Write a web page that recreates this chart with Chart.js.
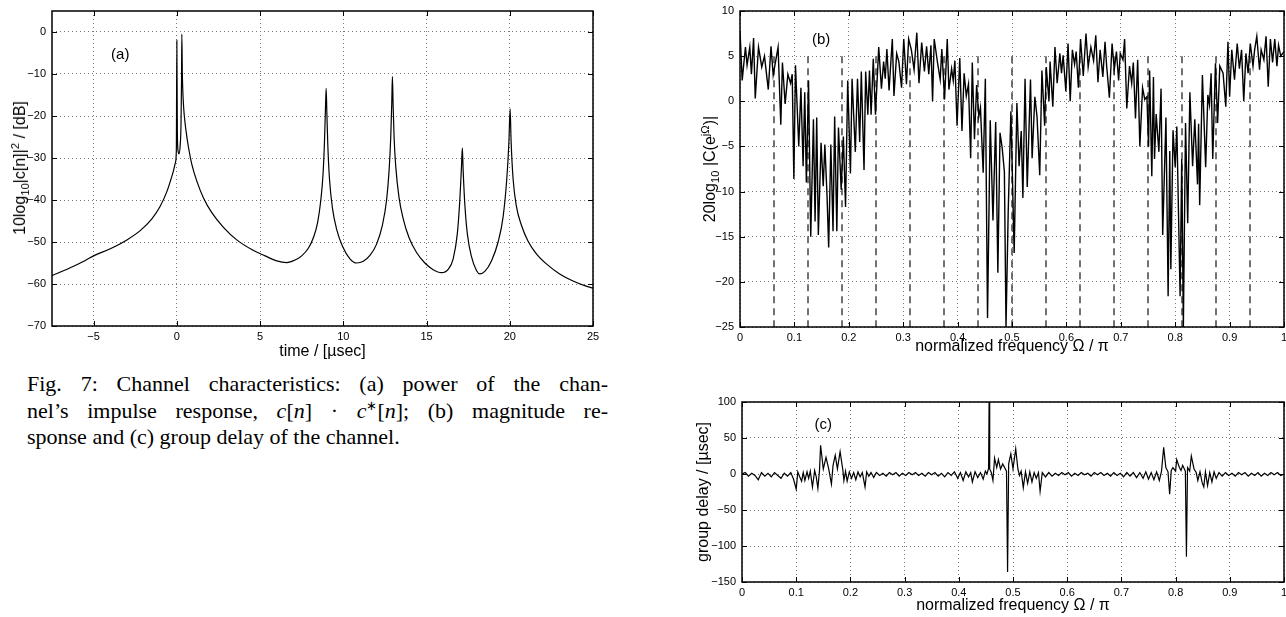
<!DOCTYPE html>
<html lang="en">
<head>
  <meta charset="UTF-8" />
  <title>Fig. 7: Channel characteristics</title>
  <script src="https://cdn.jsdelivr.net/npm/chart.js"></script>
  <style>
    body { margin: 0; background: #fff; }
    #page {
      position: relative;
      width: 1286px;
      height: 617px;
      overflow: hidden;
      font-family: 'Liberation Sans', Arial, sans-serif;
      color: #000;
    }
    canvas { position: absolute; }
    .ytitle {
      position: absolute;
      font-size: 16px;
      white-space: nowrap;
      transform: translate(-50%, -50%) rotate(-90deg);
    }
    .ytitle sub, .ytitle sup { font-size: 70%; line-height: 0; }
    .caption {
      position: absolute;
      left: 27px;
      top: 371px;
      width: 581px;
      font-family: 'Liberation Serif', 'Times New Roman', serif;
      font-size: 22px;
      line-height: 26.5px;
    }
    .caption .j { text-align: justify; text-align-last: justify; }
    .caption sup { font-size: 60%; line-height: 0; }
  </style>
</head>
<body>
  <div id="page">
    <canvas id="chartA" width="620" height="361" style="left:0;top:0"></canvas>
    <canvas id="chartB" width="606" height="356" style="left:680px;top:0"></canvas>
    <canvas id="chartC" width="606" height="230" style="left:680px;top:385px"></canvas>

    <div class="ytitle" style="left:20px;top:168px">10log<sub>10</sub>|c[n]|<sup>2</sup> / [dB]</div>
    <div class="ytitle" style="left:710px;top:169px">20log<sub>10</sub> |C(e<sup>jΩ</sup>)|</div>
    <div class="ytitle" style="left:703px;top:492px">group delay / [µsec]</div>

    <div class="caption">
      <div class="j">Fig. 7: Channel characteristics: (a) power of the chan-</div>
      <div class="j">nel’s impulse response, <i>c</i>[<i>n</i>] · <i>c</i><sup>∗</sup>[<i>n</i>]; (b) magnitude re-</div>
      <div>sponse and (c) group delay of the channel.</div>
    </div>
  </div>

  <script>
    // (a) power of the impulse response
    const aTicksX = [-5, 0, 5, 10, 15, 20, 25];
    const aTicksY = [-70, -60, -50, -40, -30, -20, -10, 0];
    const aTime = [
      -7.5, -6.5, -5.5, -5, -4, -3, -2.2, -1.5, -1, -0.6,
      -0.35, -0.2, -0.08, -0.03, 0, 0.03, 0.08, 0.13, 0.2, 0.25,
      0.28, 0.3, 0.33, 0.38, 0.45, 0.55, 0.7, 0.9, 1.2, 1.6,
      2.1, 2.8, 3.6, 4.5, 5.3, 6, 6.6, 7.1, 7.5, 7.9,
      8.2, 8.45, 8.65, 8.78, 8.87, 8.93, 8.97, 9.01, 9.07, 9.17,
      9.35, 9.6, 9.95, 10.4, 10.8, 11.2, 11.6, 12, 12.35, 12.6,
      12.75, 12.85, 12.91, 12.95, 12.99, 13.05, 13.15, 13.35, 13.6, 13.95,
      14.4, 14.9, 15.4, 15.9, 16.3, 16.6, 16.85, 17, 17.1, 17.15,
      17.2, 17.3, 17.45, 17.7, 18, 18.2, 18.5, 18.9, 19.3, 19.6,
      19.82, 19.95, 20.02, 20.08, 20.2, 20.4, 20.7, 21.1, 21.6, 22.2,
      23, 23.8, 24.5, 25
    ];
    const aPower = [
      -58, -56.3, -54.4, -53.3, -51.6, -49.5, -47.3, -44.5, -41.5, -38,
      -35, -33, -31, -28, -2, -24, -28.5, -29, -27, -22,
      -12, -0.5, -10, -16, -20, -23.5, -27.5, -31.5, -35.5, -39.5,
      -43, -46.5, -49.5, -51.8, -53.3, -54.5, -54.9, -54.3, -53.3, -51.5,
      -49, -45.5, -40, -34, -26, -18, -13.4, -19, -27, -35,
      -42, -47, -51, -54, -55, -54.6, -53.2, -50.5, -46, -40,
      -33, -25, -17, -10.6, -17, -25, -32, -39.5, -44.5, -49,
      -52.5, -55, -56.6, -57.3, -56.5, -54, -48, -40, -32, -27.6,
      -33, -41, -48, -53.5, -56.8, -57.6, -57, -54.5, -50, -44,
      -35, -26, -18.3, -26, -35, -41.5, -46, -49.8, -52.8, -55.2,
      -57.6, -59.3, -60.4, -61
    ];

    // (b) magnitude response
    const freqTicks = [0, 0.1, 0.2, 0.3, 0.4, 0.5, 0.6, 0.7, 0.8, 0.9, 1];
    const bTicksY = [-25, -20, -15, -10, -5, 0, 5, 10];
    const bFreq = [
      0, 0.004, 0.01, 0.013, 0.018, 0.021, 0.025, 0.028, 0.034, 0.04,
      0.045, 0.052, 0.057, 0.061, 0.07, 0.075, 0.078, 0.083, 0.088, 0.093,
      0.096, 0.099, 0.102, 0.108, 0.112, 0.116, 0.119, 0.122, 0.126, 0.13,
      0.135, 0.138, 0.141, 0.144, 0.149, 0.153, 0.156, 0.16, 0.163, 0.167,
      0.171, 0.174, 0.178, 0.181, 0.186, 0.19, 0.194, 0.198, 0.203, 0.206,
      0.212, 0.216, 0.22, 0.223, 0.228, 0.231, 0.235, 0.238, 0.241, 0.245,
      0.249, 0.255, 0.26, 0.264, 0.267, 0.27, 0.274, 0.28, 0.283, 0.288,
      0.292, 0.297, 0.301, 0.306, 0.31, 0.315, 0.32, 0.325, 0.329, 0.334,
      0.339, 0.343, 0.347, 0.351, 0.354, 0.357, 0.363, 0.368, 0.371, 0.376,
      0.381, 0.384, 0.389, 0.392, 0.395, 0.399, 0.404, 0.408, 0.412, 0.416,
      0.42, 0.424, 0.427, 0.431, 0.435, 0.439, 0.442, 0.447, 0.451, 0.455,
      0.46, 0.465, 0.47, 0.474, 0.478, 0.482, 0.486, 0.489, 0.493, 0.498,
      0.504, 0.509, 0.513, 0.517, 0.52, 0.524, 0.528, 0.534, 0.537, 0.542,
      0.546, 0.551, 0.555, 0.56, 0.563, 0.568, 0.57, 0.575, 0.579, 0.583,
      0.588, 0.591, 0.594, 0.599, 0.603, 0.607, 0.611, 0.615, 0.618, 0.622,
      0.626, 0.631, 0.636, 0.64, 0.645, 0.65, 0.654, 0.658, 0.662, 0.667,
      0.671, 0.674, 0.679, 0.684, 0.688, 0.692, 0.696, 0.699, 0.704, 0.707,
      0.711, 0.716, 0.72, 0.723, 0.727, 0.731, 0.735, 0.74, 0.744, 0.748,
      0.751, 0.753, 0.757, 0.76, 0.762, 0.765, 0.77, 0.774, 0.777, 0.783,
      0.787, 0.79, 0.792, 0.796, 0.8, 0.803, 0.809, 0.812, 0.815, 0.819,
      0.823, 0.827, 0.832, 0.836, 0.841, 0.843, 0.845, 0.85, 0.856, 0.86,
      0.863, 0.866, 0.869, 0.874, 0.878, 0.882, 0.888, 0.893, 0.897, 0.9,
      0.904, 0.909, 0.914, 0.918, 0.922, 0.926, 0.93, 0.934, 0.938, 0.943,
      0.946, 0.95, 0.955, 0.958, 0.963, 0.967, 0.971, 0.975, 0.979, 0.983,
      0.987, 0.99, 0.994, 1
    ];
    const bMag = [
      7.8, 2.3, 6, 4, 6, 3, 7, 0.3, 6, 3.8,
      5, 1.3, 6.1, 2.9, 6, -2.6, 4.3, -0.3, 3, 2,
      3, -8.6, 4, -5, 1.5, -7.2, 1, -9, 2.3, -15,
      -2, -13.3, -1.8, -14.8, -4.6, -9.4, -4.8, -10.5, -16.2, -4.8,
      -14.4, -1.7, -14.4, -2.9, -9.8, -3.9, -11.7, 2.3, -8, 2.5,
      -5.6, 2.5, -4.5, 3.3, -7.6, 3.3, -1.5, 3.4, -1.5, 4.7,
      -1.5, 6, 1.4, 4.4, 2.5, 5.8, 1.2, 6.9, 0.6, 5.3,
      4.4, 1.5, 6.9, 1.9, 6.9, 5.7, 3.5, 7.6, 2, 6.5,
      3.3, 6.1, 3, 6.2, 0, 6.9, 4.3, 2.4, 5.8, 0.2,
      6.9, 1.3, 3.6, 2.3, 4.5, -2.7, 4.8, -3.3, 3.1, 0.6,
      1.9, -6.3, 4.3, -4.2, 1.8, -1.7, -0.7, -7.9, 2.5, -24,
      -2.1, -13.2, -2.3, -19, -3.5, -5.2, -7.8, -25, -12.3, -1.1,
      -16.8, -0.2, -7.2, -3.3, -10.7, 2.5, -9.5, 2.4, -6.3, 0.5,
      -1.7, -8.2, 3.4, -2.7, 3.8, 0, 4.4, -0.6, 6, 2,
      5.3, 3.1, 5.1, 1.1, 6.4, 0, 5.7, 4.1, 5.5, 1.5,
      6.9, 2.8, 7.5, 3.8, 6, 4.5, 7.3, 2.1, 5.7, 2.7,
      6.6, 3.9, 0.4, 6.4, 3.5, 5.5, 2.3, 5.3, 4.6, 6.9,
      -0.8, 3.9, 2, 4.3, -1.9, 4.6, -5, 1.5, 0.2, 0.5,
      -5, 3.4, -8.3, 2.7, -6.4, -1.4, -5.6, 1.4, -14.8, -1.8,
      -21.6, -5.5, -18.6, -3.2, -7.3, -2.8, -21.6, -6.4, -25, -2.4,
      -13.5, 1, -7.2, -2, -9.2, -2.5, -11.5, 2.9, -7.3, 0.7,
      -0.4, 3.1, -6.4, 4.2, -2.4, 3.9, 3.1, -0.6, 6.6, 0.5,
      5.7, 2.4, 6.4, 3.6, 5.7, 0, 5.3, 3.1, 6.4, 3.9,
      5.7, 7.2, 3.5, 5.7, 4.6, 7.2, 1.6, 6.9, 4.3, 6.9,
      3.9, 6.2, 5, 5.5
    ];
    // dashed sub-band edges, drawn from 5 dB down to the axis floor
    const bandEdges = [0.0625, 0.125, 0.1875, 0.25, 0.3125, 0.375, 0.4375, 0.5,
                       0.5625, 0.625, 0.6875, 0.75, 0.8125, 0.875, 0.9375];
    const bandEdgeRange = [5, -25];

    // (c) group delay
    const cTicksY = [-150, -100, -50, 0, 50, 100];
    const gdFreq = [
      0, 0.006, 0.012, 0.018, 0.024, 0.03, 0.036, 0.042, 0.048, 0.054,
      0.06, 0.066, 0.072, 0.078, 0.084, 0.09, 0.095, 0.1, 0.103, 0.107,
      0.11, 0.113, 0.116, 0.12, 0.123, 0.126, 0.13, 0.134, 0.137, 0.14,
      0.143, 0.145, 0.15, 0.155, 0.16, 0.165, 0.168, 0.172, 0.176, 0.181,
      0.186, 0.188, 0.191, 0.194, 0.198, 0.202, 0.206, 0.21, 0.214, 0.218,
      0.222, 0.227, 0.23, 0.234, 0.238, 0.243, 0.248, 0.254, 0.26, 0.266,
      0.272, 0.278, 0.284, 0.29, 0.296, 0.302, 0.308, 0.314, 0.32, 0.326,
      0.332, 0.338, 0.344, 0.35, 0.356, 0.362, 0.368, 0.374, 0.38, 0.386,
      0.392, 0.398, 0.403, 0.408, 0.413, 0.418, 0.422, 0.425, 0.43, 0.435,
      0.44, 0.445, 0.449, 0.452, 0.455, 0.456, 0.457, 0.46, 0.463, 0.466,
      0.47, 0.473, 0.477, 0.481, 0.488, 0.49, 0.492, 0.496, 0.5, 0.505,
      0.509, 0.512, 0.515, 0.519, 0.523, 0.527, 0.531, 0.535, 0.539, 0.543,
      0.547, 0.55, 0.554, 0.56, 0.566, 0.572, 0.578, 0.584, 0.59, 0.596,
      0.602, 0.608, 0.614, 0.62, 0.626, 0.632, 0.638, 0.644, 0.65, 0.656,
      0.662, 0.668, 0.674, 0.68, 0.686, 0.692, 0.698, 0.704, 0.71, 0.716,
      0.722, 0.728, 0.734, 0.74, 0.745, 0.75, 0.755, 0.76, 0.765, 0.77,
      0.774, 0.778, 0.782, 0.786, 0.789, 0.792, 0.795, 0.8, 0.802, 0.807,
      0.81, 0.813, 0.818, 0.82, 0.822, 0.826, 0.829, 0.834, 0.838, 0.841,
      0.845, 0.849, 0.852, 0.855, 0.859, 0.863, 0.867, 0.871, 0.875, 0.88,
      0.886, 0.892, 0.898, 0.904, 0.91, 0.916, 0.922, 0.928, 0.934, 0.94,
      0.946, 0.952, 0.958, 0.964, 0.97, 0.976, 0.982, 0.988, 0.994, 1
    ];
    const gdDelay = [
      0, 2, -3, 1, -2, -8, 2, -3, 1, -4,
      2, -2, -6, 1, -3, 2, -7, -21, 3, -5,
      -10, 2, -9, 3, -6, 4, -18, 5, -4, -20,
      5, 40, 7, 23, 7, -14, 12, 26, 7, 31,
      6, -9, 4, -10, 3, -6, 2, -8, 3, -4,
      2, -18, 3, -3, 2, -5, 2, -2, 1, -3,
      2, -1, 2, -3, 1, -2, 2, -1, 2, -2,
      1, -3, 2, -1, 2, -3, 1, -4, 2, -2,
      3, -6, 2, -9, 3, -4, 2, -11, 3, -5,
      2, -7, 4, 0, 8, 110, 7, 2, -9, 22,
      9, 20, 7, 14, 4, -136, 14, 28, 7, 35,
      7, -2, 4, -19, 3, -13, 3, -11, 2, -6,
      2, -24, 2, -4, 2, -3, 1, -2, 2, -1,
      2, -3, 1, -2, 2, -1, 1, -3, 2, -1,
      2, -2, 1, -3, 2, -2, 1, -4, 2, -3,
      2, -5, 2, -6, 3, -7, 2, -8, 3, -9,
      4, 37, 9, 3, -28, 5, 9, 4, 20, 9,
      5, 12, 4, -115, 9, 4, 25, 7, 2, -9,
      3, -12, -18, 3, -16, 2, -11, 3, -6, 2,
      -3, 2, -2, 1, -3, 2, -1, 2, -3, 1,
      -2, 2, -3, 1, -2, 2, -1, 2, -2, 0
    ];

    const sans = "'Liberation Sans', Arial, sans-serif";
    const tickFont = { family: sans, size: 11 };
    const titleFont = { family: sans, size: 16 };

    const fmt = v => String(v).replace('-', '\u2212');

    // MATLAB-like axis: fixed size, dotted grid, given tick list
    function makeScale(min, max, ticks, size, horizontal, title) {
      return {
        type: 'linear',
        min: min,
        max: max,
        afterBuildTicks: s => { s.ticks = ticks.map(v => ({ value: v })); },
        afterFit: s => {
          if (horizontal) { s.height = size; s.paddingLeft = 0; s.paddingRight = 0; }
          else { s.width = size; s.paddingTop = 0; s.paddingBottom = 0; }
        },
        grid: { color: '#777', lineWidth: 1, drawTicks: false },
        border: { display: false, dash: [1, 3] },
        ticks: {
          font: tickFont, color: '#000', padding: horizontal ? 4 : 6,
          autoSkip: false, maxRotation: 0, callback: v => fmt(v)
        },
        title: title
          ? { display: true, text: title, font: titleFont, color: '#000', padding: 0 }
          : { display: false }
      };
    }

    function curve(xs, ys, width, smooth) {
      return {
        data: xs.map((x, i) => ({ x: x, y: ys[i] })),
        borderColor: '#000',
        borderWidth: width,
        pointRadius: 0,
        fill: false,
        tension: 0,
        cubicInterpolationMode: smooth ? 'monotone' : 'default'
      };
    }

    // box round the plot, inward tick marks and the panel letter
    const framePlugin = {
      id: 'frame',
      afterDatasetsDraw(chart, args, opts) {
        const { ctx, chartArea: a, scales: { x, y } } = chart;
        ctx.save();
        ctx.strokeStyle = '#000';
        ctx.lineWidth = 1;
        ctx.beginPath();
        x.ticks.forEach(t => {
          const px = Math.round(x.getPixelForValue(t.value)) + 0.5;
          ctx.moveTo(px, a.bottom); ctx.lineTo(px, a.bottom - 5);
          ctx.moveTo(px, a.top); ctx.lineTo(px, a.top + 5);
        });
        y.ticks.forEach(t => {
          const py = Math.round(y.getPixelForValue(t.value)) + 0.5;
          ctx.moveTo(a.left, py); ctx.lineTo(a.left + 5, py);
          ctx.moveTo(a.right, py); ctx.lineTo(a.right - 5, py);
        });
        ctx.stroke();
        ctx.lineWidth = 1.5;
        ctx.strokeRect(a.left, a.top, a.right - a.left, a.bottom - a.top);
        if (opts.label) {
          ctx.fillStyle = '#000';
          ctx.font = '15px ' + sans;
          ctx.textAlign = 'center';
          ctx.textBaseline = 'middle';
          ctx.fillText(opts.label, x.getPixelForValue(opts.at[0]), y.getPixelForValue(opts.at[1]));
        }
        ctx.restore();
      }
    };

    function baseOptions(padding, xScale, yScale, frame) {
      return {
        responsive: false,
        animation: false,
        events: [],
        layout: { padding: padding },
        plugins: { legend: { display: false }, tooltip: { enabled: false }, frame: frame },
        scales: { x: xScale, y: yScale }
      };
    }

    new Chart(document.getElementById('chartA'), {
      type: 'line',
      data: { datasets: [curve(aTime, aPower, 1.2, true)] },
      options: baseOptions(
        { left: 0, top: 11, right: 27, bottom: 0 },
        makeScale(-7.5, 25, aTicksX, 35, true, 'time / [µsec]'),
        makeScale(-70, 5, aTicksY, 52, false),
        { label: '(a)', at: [-3.4, -5.4] }
      ),
      plugins: [framePlugin]
    });

    const edgeSets = bandEdges.map(e => ({
      data: bandEdgeRange.map(v => ({ x: e, y: v })),
      borderColor: '#444',
      borderWidth: 1.5,
      borderDash: [7, 5],
      pointRadius: 0,
      fill: false
    }));

    new Chart(document.getElementById('chartB'), {
      type: 'line',
      data: { datasets: [curve(bFreq, bMag, 1.4, false)].concat(edgeSets) },
      options: baseOptions(
        { left: 0, top: 11, right: 2, bottom: 0 },
        makeScale(0, 1, freqTicks, 29, true, 'normalized frequency Ω / π'),
        makeScale(-25, 10, bTicksY, 60, false),
        { label: '(b)', at: [0.149, 6.75] }
      ),
      plugins: [framePlugin]
    });

    new Chart(document.getElementById('chartC'), {
      type: 'line',
      data: { datasets: [curve(gdFreq, gdDelay, 1.2, false)] },
      options: baseOptions(
        { left: 0, top: 17, right: 2, bottom: 0 },
        makeScale(0, 1, freqTicks, 33, true, 'normalized frequency Ω / π'),
        makeScale(-150, 100, cTicksY, 62, false),
        { label: '(c)', at: [0.15, 68] }
      ),
      plugins: [framePlugin]
    });
  </script>
</body>
</html>
